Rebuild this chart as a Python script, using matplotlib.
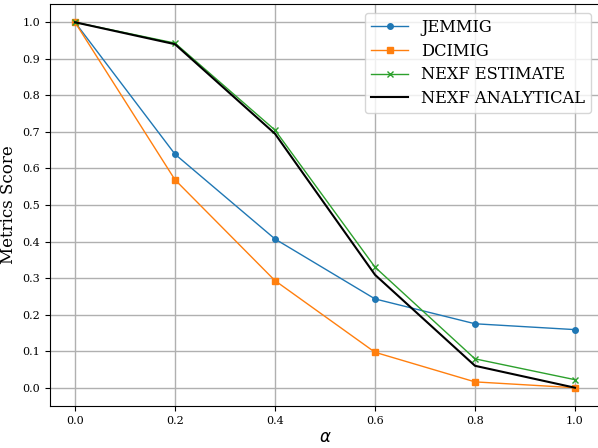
import numpy as np
import matplotlib.pyplot as plt

plt.rcParams['font.family'] = 'DejaVu Serif'
plt.rcParams['mathtext.fontset'] = 'dejavusans'

alpha = [0.0, 0.2, 0.4, 0.6, 0.8, 1.0]
jemmig = [1.0, 0.639, 0.407, 0.243, 0.175, 0.159]
dcimig = [1.0, 0.569, 0.293, 0.097, 0.016, 0.0]
nexf_est = [1.0, 0.943, 0.705, 0.330, 0.079, 0.022]
nexf_ana = [1.0, 0.940, 0.695, 0.309, 0.060, 0.0]

fig = plt.figure(figsize=(5.98, 4.48), dpi=100)
ax = fig.add_axes([50/598, 42/448, 550/598, 402/448])

ax.plot(alpha, jemmig, '-o', color='tab:blue', lw=1, ms=4, label='JEMMIG')
ax.plot(alpha, dcimig, '-s', color='tab:orange', lw=1, ms=4, label='DCIMIG')
ax.plot(alpha, nexf_est, '-x', color='tab:green', lw=1, ms=4, label='NEXF ESTIMATE')
ax.plot(alpha, nexf_ana, '-', color='black', lw=1.5, label='NEXF ANALYTICAL')

ax.set_xlim(-0.05, 1.05)
ax.set_ylim(-0.05, 1.05)
ax.set_xticks(np.arange(0, 1.01, 0.2))
ax.set_yticks(np.arange(0, 1.01, 0.1))
ax.tick_params(labelsize=8)
ax.grid(True, lw=1, color='#b0b0b0')
ax.set_xlabel(r'$\alpha$', fontsize=12, labelpad=2)
ax.set_ylabel('Metrics Score', fontsize=12)
ax.legend(fontsize=11.7, loc='upper right', bbox_to_anchor=(0.9836, 0.9776),
          borderaxespad=0, labelspacing=0.42, handlelength=2.3, borderpad=0.35)

fig.savefig('out.png', dpi=100)
